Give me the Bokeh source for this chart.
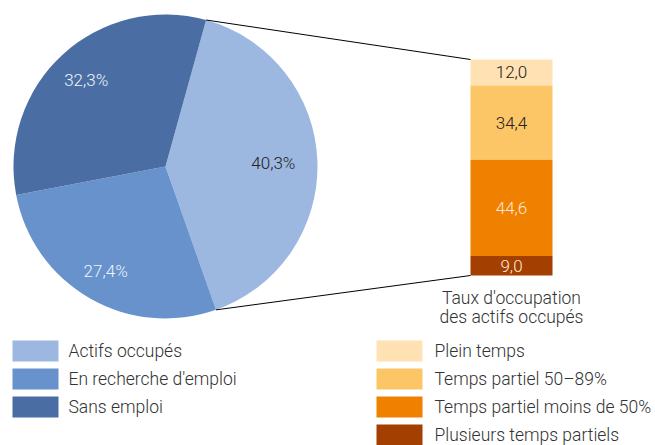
import math
from bokeh.plotting import figure
from bokeh.models import Range1d
from bokeh.core.properties import value
from bokeh.embed import file_html
from bokeh.resources import INLINE

# ---------------- data ----------------
pie_labels = ["Actifs occupés", "En recherche d'emploi", "Sans emploi"]
pie_values = [40.3, 27.4, 32.3]
pie_colors = ["#9db8e0", "#6792cb", "#4a6ea4"]

bar_labels = ["Plein temps", "Temps partiel 50\u201389%", "Temps partiel moins de 50%", "Plusieurs temps partiels"]
bar_values = [12.0, 34.4, 44.6, 9.0]
bar_colors = ["#ffe1b4", "#fcc666", "#f08000", "#a33f00"]
bar_text_colors = ["#222222", "#222222", "#ffe8d2", "#ffe8d2"]
pie_text_colors = ["#222222", "#f0f4fa", "#f0f4fa"]
bar_caption = ["Taux d'occupation", "des actifs occupés"]

def fmt(v, pct=False):
    s = f"{v:.1f}".replace(".", ",")
    return s + ("%" if pct else "")

# ---------------- layout ----------------
W, H = 655, 445
FONT = value("'Roboto Light', Roboto, sans-serif")
p = figure(width=W, height=H, x_range=Range1d(0, W), y_range=Range1d(0, H),
           output_backend="svg", toolbar_location=None, min_border=0)
p.axis.visible = False
p.grid.visible = False
p.outline_line_color = None
p.background_fill_color = "white"

cx, cy, R = 165, 279, 152
start_top = 74.5  # degrees, top edge of first slice; slices go clockwise
total = sum(pie_values)
ends, starts = [], []
cur = start_top
for v in pie_values:
    span = v / total * 360.0
    ends.append(math.radians(cur))
    starts.append(math.radians(cur - span))
    cur -= span
p.wedge(x=[cx] * 3, y=[cy] * 3, radius=R, start_angle=starts, end_angle=ends,
        fill_color=pie_colors, line_color=None, direction="anticlock")

label_r = [0.71, 0.79, 0.77]
lx, ly = [], []
for s, e, f in zip(starts, ends, label_r):
    m = (s + e) / 2
    lx.append(cx + R * f * math.cos(m))
    ly.append(cy + R * f * math.sin(m))
p.text(x=lx, y=ly, text=[fmt(v, True) for v in pie_values], text_align="center",
       text_baseline="middle", text_font=FONT, text_font_size="17px",
       text_color=pie_text_colors)

# ---------------- stacked bar ----------------
bx, bw = 511, 82
b_top, b_bot = 386, 170
scale = (b_top - b_bot) / sum(bar_values)
tops, bots = [], []
y = b_top
for v in bar_values:
    tops.append(y)
    bots.append(y - v * scale)
    y -= v * scale
p.quad(left=[bx - bw / 2] * 4, right=[bx + bw / 2] * 4, top=tops, bottom=bots,
       fill_color=bar_colors, line_color=None)
p.text(x=[bx] * 4, y=[(t + b) / 2 for t, b in zip(tops, bots)],
       text=[fmt(v) for v in bar_values], text_align="center", text_baseline="middle",
       text_font=FONT, text_font_size="17px", text_color=bar_text_colors)
p.text(x=[bx] * 2, y=[148, 129], text=bar_caption, text_align="center",
       text_baseline="middle", text_font=FONT, text_font_size="17.5px", text_color="#333333")

# connector lines
a_top = ends[0]
a_bot = starts[0]
p.segment(x0=[cx + R * math.cos(a_top), cx + R * math.cos(a_bot)],
          y0=[cy + R * math.sin(a_top), cy + R * math.sin(a_bot)],
          x1=[bx - bw / 2] * 2, y1=[b_top, b_bot], line_color="black", line_width=1)

# ---------------- legends ----------------
row_y = [94.5, 66.5, 38.5, 10.5]
sq_w, sq_h = 46, 21
p.rect(x=[35] * 3, y=row_y[:3], width=sq_w, height=sq_h, fill_color=pie_colors, line_color=None)
p.text(x=[68] * 3, y=row_y[:3], text=pie_labels, text_baseline="middle",
       text_font=FONT, text_font_size="17.5px", text_color="#333333")
p.rect(x=[399] * 4, y=row_y, width=sq_w, height=sq_h, fill_color=bar_colors, line_color=None)
p.text(x=[434] * 4, y=row_y, text=bar_labels, text_baseline="middle",
       text_font=FONT, text_font_size="17.5px", text_color="#333333")

open("out.html", "w").write(file_html(p, INLINE))
